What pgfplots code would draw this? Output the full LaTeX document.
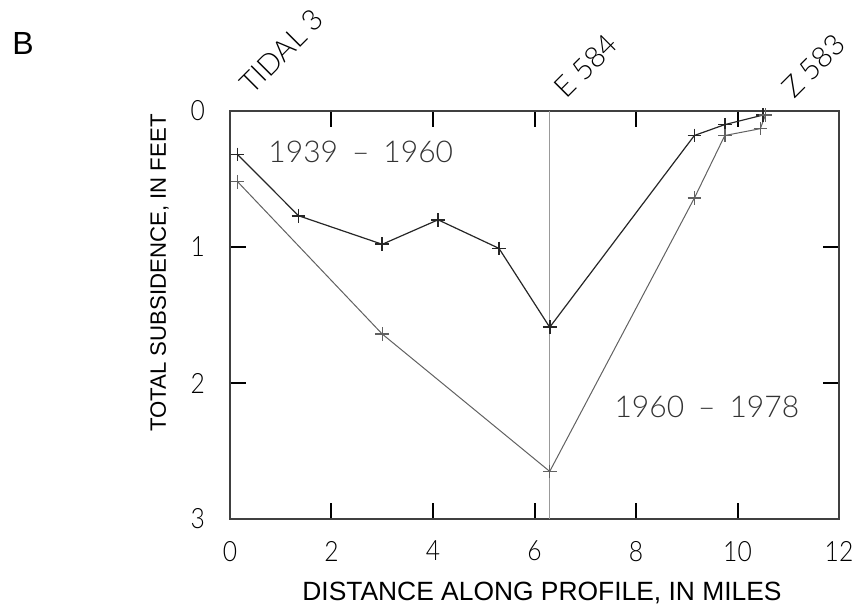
\documentclass[border=0pt]{standalone}
\usepackage{fontspec}
\setmainfont{Liberation Sans}
\newfontfamily\thin{Lato Light}
\newfontfamily\thinnarrow{Lato Light}[FakeStretch=0.88]
\usepackage{pgfplots}
\pgfplotsset{compat=1.18}

\begin{document}
\begin{tikzpicture}
\begin{axis}[
  at={(0,0)}, anchor=south west,
  scale only axis, width=304.5pt, height=204pt,
  xmin=0, xmax=12, ymin=0, ymax=3, y dir=reverse,
  xtick={0,2,...,12}, ytick={0,1,2,3},
  tick align=inside, major tick length=8pt,
  every tick/.style={black, line width=1pt},
  axis line style={draw=black!75, line width=0.6pt},
  clip=false,
  /pgf/number format/assume math mode=true,
  ticklabel style={font=\thinnarrow\fontsize{14}{15}\selectfont},
  xticklabel style={yshift=-7.5pt},
  yticklabel style={xshift=-9pt},
  xlabel={DISTANCE ALONG PROFILE, IN MILES},
  xlabel style={at={(axis description cs:0.5,0)}, anchor=base, inner sep=0pt,
    yshift=-40.5pt, xshift=3.75pt, font=\fontsize{13.2}{15}\selectfont},
]
% station E 584
\addplot[black!40, line width=0.6pt] coordinates {(6.3,0) (6.3,3)};
% 1939-1960
\addplot[black!85, line width=0.6pt, mark=+, mark size=3.4pt,
  mark options={line width=0.8pt}] coordinates {
  (0.15,0.32) (1.35,0.77) (3.0,0.98) (4.1,0.80) (5.3,1.01)
  (6.3,1.59) (9.15,0.18) (9.75,0.10) (10.5,0.03)};
% 1960-1978
\addplot[black!62, line width=0.5pt, mark=+, mark size=3.4pt,
  mark options={line width=0.7pt}] coordinates {
  (0.15,0.52) (3.0,1.64) (6.3,2.65) (9.15,0.64) (9.75,0.18)
  (10.45,0.13) (10.55,0.03)};
\node[anchor=base west, inner sep=0pt, text=black!80,
  font=\thin\fontsize{15}{16}\selectfont] at (axis cs:0.75,0.38)
  {1939\hspace{7pt}–\hspace{7pt}1960};
\node[anchor=base west, inner sep=0pt, text=black!80,
  font=\thin\fontsize{15}{16}\selectfont] at (axis cs:7.57,2.25)
  {1960\hspace{7pt}–\hspace{7pt}1978};
% station names
\node[rotate=45, anchor=base west, inner sep=0pt,
  font=\thin\fontsize{14.5}{16}\selectfont] at (axis cs:0.43,-0.11) {TIDAL 3};
\node[rotate=45, anchor=base west, inner sep=0pt,
  font=\thin\fontsize{14.5}{16}\selectfont] at (axis cs:6.63,-0.08) {E 584};
\node[rotate=45, anchor=base west, inner sep=0pt,
  font=\thin\fontsize{14.5}{16}\selectfont] at (axis cs:11.11,-0.08) {Z 583};
\end{axis}
\node[rotate=90, anchor=base, inner sep=0pt, font=\fontsize{11.1}{13}\selectfont]
  at ([shift={(-32pt,21pt)}]current axis.west) {TOTAL SUBSIDENCE, IN FEET};
\node[anchor=base west, inner sep=0pt, font=\fontsize{16}{18}\selectfont]
  at ([shift={(-109pt,232pt)}]current axis.south west) {B};
\pgfresetboundingbox
\path[use as bounding box] ([shift={(-115pt,-43pt)}]current axis.south west)
  rectangle ([shift={(311pt,259.5pt)}]current axis.south west);
\end{tikzpicture}
\end{document}
